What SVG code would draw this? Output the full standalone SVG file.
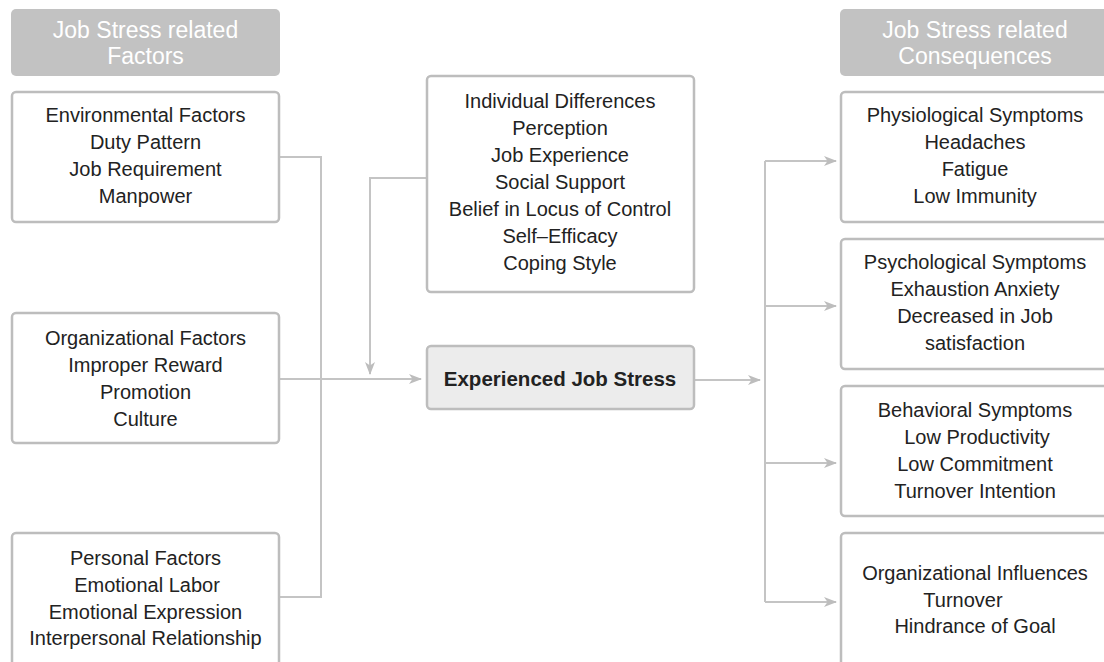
<svg xmlns="http://www.w3.org/2000/svg" width="1104" height="662" viewBox="0 0 1104 662">
<defs>
<style>
.hdr{fill:#c2c2c2;}
.hdrt{fill:#ffffff;font-family:"Liberation Sans",Arial,sans-serif;font-size:23px;text-anchor:middle;}
.box{fill:#ffffff;stroke:#bdbdbd;stroke-width:2.5;}
.core{fill:#ececec;stroke:#bdbdbd;stroke-width:2.5;}
.t{fill:#222222;font-family:"Liberation Sans",Arial,sans-serif;font-size:20px;text-anchor:middle;}
.tb{fill:#222222;font-family:"Liberation Sans",Arial,sans-serif;font-size:20.5px;font-weight:bold;text-anchor:middle;}
.ln{fill:none;stroke:#c4c4c4;stroke-width:2;}
</style>
<marker id="arr" markerUnits="userSpaceOnUse" markerWidth="14" markerHeight="12" refX="12" refY="6" orient="auto">
<path d="M0,1 L13,6 L0,11 L3.5,6 Z" fill="#bdbdbd"/>
</marker>
</defs>
<rect width="1104" height="662" fill="#ffffff"/>

<g id="hdr-left">
<rect class="hdr" x="11" y="9" width="269" height="67" rx="5"/>
<text class="hdrt" x="145.5" y="38">Job Stress related</text>
<text class="hdrt" x="145.5" y="64">Factors</text>
</g>
<g id="hdr-right">
<rect class="hdr" x="840" y="9" width="270" height="67" rx="5"/>
<text class="hdrt" x="975" y="38">Job Stress related</text>
<text class="hdrt" x="975" y="64">Consequences</text>
</g>

<g id="connectors">
<path class="ln" d="M280,157 H321 V597 H280"/>
<path class="ln" d="M280,379 H421" marker-end="url(#arr)"/>
<path class="ln" d="M426,178 H370 V374" marker-end="url(#arr)"/>
<path class="ln" d="M694,380 H760" marker-end="url(#arr)"/>
<path class="ln" d="M765,161 V602"/>
<path class="ln" d="M765,161 H836" marker-end="url(#arr)"/>
<path class="ln" d="M765,306 H836" marker-end="url(#arr)"/>
<path class="ln" d="M765,463 H836" marker-end="url(#arr)"/>
<path class="ln" d="M765,602 H836" marker-end="url(#arr)"/>
</g>

<g id="env">
<rect class="box" x="12" y="92" width="267" height="130" rx="4"/>
<text class="t" x="145.5" y="122">Environmental Factors</text>
<text class="t" x="145.5" y="149">Duty Pattern</text>
<text class="t" x="145.5" y="176">Job Requirement</text>
<text class="t" x="145.5" y="203">Manpower</text>
</g>
<g id="org">
<rect class="box" x="12" y="313" width="267" height="130" rx="4"/>
<text class="t" x="145.5" y="345">Organizational Factors</text>
<text class="t" x="145.5" y="372">Improper Reward</text>
<text class="t" x="145.5" y="399">Promotion</text>
<text class="t" x="145.5" y="426">Culture</text>
</g>
<g id="personal">
<rect class="box" x="12" y="533" width="267" height="140" rx="4"/>
<text class="t" x="145.5" y="565">Personal Factors</text>
<text class="t" x="147" y="592">Emotional Labor</text>
<text class="t" x="145.5" y="619">Emotional Expression</text>
<text class="t" x="145.5" y="645">Interpersonal Relationship</text>
</g>

<g id="individual">
<rect class="box" x="427" y="76" width="267" height="216" rx="4"/>
<text class="t" x="560" y="108">Individual Differences</text>
<text class="t" x="560" y="135">Perception</text>
<text class="t" x="560" y="162">Job Experience</text>
<text class="t" x="560" y="189">Social Support</text>
<text class="t" x="560" y="216">Belief in Locus of Control</text>
<text class="t" x="560" y="243">Self–Efficacy</text>
<text class="t" x="560" y="270">Coping Style</text>
</g>
<g id="experienced">
<rect class="core" x="427" y="346" width="267" height="63" rx="4"/>
<text class="tb" x="560" y="386">Experienced Job Stress</text>
</g>

<g id="physio">
<rect class="box" x="841" y="92" width="280" height="130" rx="4"/>
<text class="t" x="975" y="122">Physiological Symptoms</text>
<text class="t" x="975" y="149">Headaches</text>
<text class="t" x="975" y="176">Fatigue</text>
<text class="t" x="975" y="203">Low Immunity</text>
</g>
<g id="psycho">
<rect class="box" x="841" y="239" width="280" height="130" rx="4"/>
<text class="t" x="975" y="269">Psychological Symptoms</text>
<text class="t" x="975" y="296">Exhaustion Anxiety</text>
<text class="t" x="975" y="323">Decreased in Job</text>
<text class="t" x="975" y="350">satisfaction</text>
</g>
<g id="behav">
<rect class="box" x="841" y="386" width="280" height="130" rx="4"/>
<text class="t" x="975" y="417">Behavioral Symptoms</text>
<text class="t" x="977" y="444">Low Productivity</text>
<text class="t" x="975" y="471">Low Commitment</text>
<text class="t" x="975" y="498">Turnover Intention</text>
</g>
<g id="orginf">
<rect class="box" x="841" y="533" width="280" height="140" rx="4"/>
<text class="t" x="975" y="580">Organizational Influences</text>
<text class="t" x="963" y="607">Turnover</text>
<text class="t" x="975" y="633">Hindrance of Goal</text>
</g>
</svg>
